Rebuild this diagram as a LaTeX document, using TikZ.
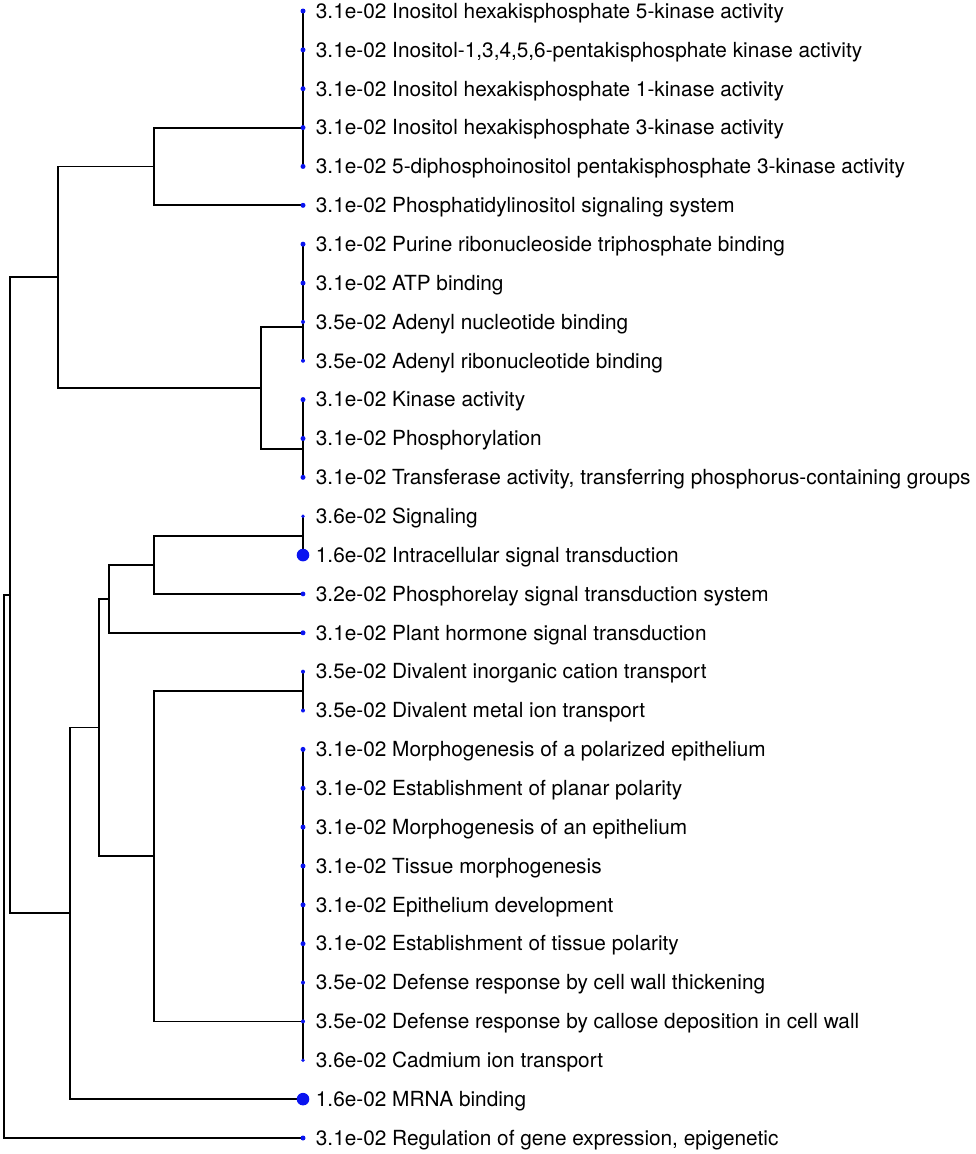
\documentclass[tikz,border=0pt]{standalone}
\usepackage{fontspec}
\setmainfont{TeX Gyre Heros}
\definecolor{dotblue}{RGB}{10,20,240}
\begin{document}
\begin{tikzpicture}[x=1pt,y=-1pt,
  edge/.style={line width=1.8pt,black},
  lab/.style={anchor=base west,inner sep=0pt,font=\fontsize{20.8}{22}\selectfont},
  dotS/.style={fill=dotblue,draw=none},
]
\useasboundingbox (0,0) rectangle (975,1154);
% leaf coordinates
\foreach \i in {1,...,30}{
  \coordinate (l\i) at (303,{11+(\i-1)*38.862});
}
% internal nodes
\coordinate (A) at (303,127.6);
\coordinate (B) at (303,326.7);
\coordinate (C) at (303,449);
\coordinate (S) at (303,535.6);
\coordinate (D) at (303,691);
\coordinate (E) at (303,1021.4);
\coordinate (nA6) at (154,166.4);
\coordinate (nBC) at (261,387.9);
\coordinate (ntop) at (58,277.2);
\coordinate (ns1) at (154,564.7);
\coordinate (ns2) at (109,598.8);
\coordinate (nDE) at (154,856.2);
\coordinate (nm) at (99,727.5);
\coordinate (nm2) at (70,913.3);
\coordinate (nbig) at (10,595.3);
\coordinate (root) at (4,866.7);
% cluster verticals
\draw[edge] (l1) -- (l5);
\draw[edge] (l7) -- (l10);
\draw[edge] (l11) -- (l13);
\draw[edge] (l14) -- (l15);
\draw[edge] (l18) -- (l19);
\draw[edge] (l20) -- (l28);
% elbows
\draw[edge] (nA6) |- (A);
\draw[edge] (nA6) |- (l6);
\draw[edge] (nBC) |- (B);
\draw[edge] (nBC) |- (C);
\draw[edge] (ntop) |- (nA6);
\draw[edge] (ntop) |- (nBC);
\draw[edge] (ns1) |- (S);
\draw[edge] (ns1) |- (l16);
\draw[edge] (ns2) |- (ns1);
\draw[edge] (ns2) |- (l17);
\draw[edge] (nDE) |- (D);
\draw[edge] (nDE) |- (E);
\draw[edge] (nm) |- (ns2);
\draw[edge] (nm) |- (nDE);
\draw[edge] (nm2) |- (nm);
\draw[edge] (nm2) |- (l29);
\draw[edge] (nbig) |- (ntop);
\draw[edge] (nbig) |- (nm2);
\draw[edge] (root) |- (nbig);
\draw[edge] (root) |- (l30);
% dots and labels
\foreach \i/\r/\t in {
1/2.5/{3.1e-02 Inositol hexakisphosphate 5-kinase activity},
2/2.5/{3.1e-02 Inositol-1,3,4,5,6-pentakisphosphate kinase activity},
3/2.5/{3.1e-02 Inositol hexakisphosphate 1-kinase activity},
4/2.5/{3.1e-02 Inositol hexakisphosphate 3-kinase activity},
5/2.5/{3.1e-02 5-diphosphoinositol pentakisphosphate 3-kinase activity},
6/2.5/{3.1e-02 Phosphatidylinositol signaling system},
7/2.5/{3.1e-02 Purine ribonucleoside triphosphate binding},
8/2.5/{3.1e-02 ATP binding},
9/2.0/{3.5e-02 Adenyl nucleotide binding},
10/2.0/{3.5e-02 Adenyl ribonucleotide binding},
11/2.5/{3.1e-02 Kinase activity},
12/2.5/{3.1e-02 Phosphorylation},
13/2.5/{3.1e-02 Transferase activity, transferring phosphorus-containing groups},
14/1.8/{3.6e-02 Signaling},
15/6.3/{1.6e-02 Intracellular signal transduction},
16/2.4/{3.2e-02 Phosphorelay signal transduction system},
17/2.5/{3.1e-02 Plant hormone signal transduction},
18/2.0/{3.5e-02 Divalent inorganic cation transport},
19/2.0/{3.5e-02 Divalent metal ion transport},
20/2.5/{3.1e-02 Morphogenesis of a polarized epithelium},
21/2.5/{3.1e-02 Establishment of planar polarity},
22/2.5/{3.1e-02 Morphogenesis of an epithelium},
23/2.5/{3.1e-02 Tissue morphogenesis},
24/2.5/{3.1e-02 Epithelium development},
25/2.5/{3.1e-02 Establishment of tissue polarity},
26/2.0/{3.5e-02 Defense response by cell wall thickening},
27/2.0/{3.5e-02 Defense response by callose deposition in cell wall},
28/1.8/{3.6e-02 Cadmium ion transport},
29/6.3/{1.6e-02 MRNA binding},
30/2.5/{3.1e-02 Regulation of gene expression, epigenetic}}{
  \fill[dotS] (l\i) circle (\r);
  \node[lab] (t\i) at ([xshift=12.7pt,yshift=-7.3pt]l\i) {\t};
}
\end{tikzpicture}
\end{document}
